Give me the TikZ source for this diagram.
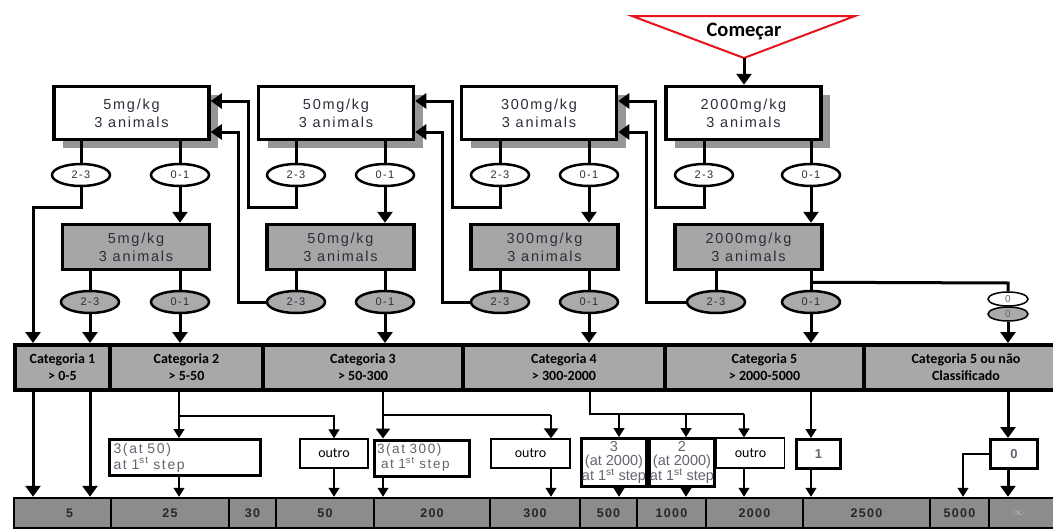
\documentclass[tikz,border=0pt]{standalone}
\usepackage{fontspec}
\setmainfont{Liberation Sans}
\newfontfamily\arialsp[LetterSpace=12]{Liberation Sans}
\newfontfamily\numsp[LetterSpace=10]{Liberation Sans}
\newfontfamily\calib{Carlito}
\usetikzlibrary{arrows.meta,shapes.geometric,shadows}
\definecolor{shadowgray}{RGB}{150,150,150}
\definecolor{boxgray}{RGB}{166,166,166}
\definecolor{ellgray}{RGB}{170,170,170}
\definecolor{catgray}{RGB}{168,168,168}
\definecolor{rowgray}{RGB}{140,140,140}
\definecolor{txtdark}{RGB}{45,45,60}
\definecolor{txtgray}{RGB}{100,100,112}
\definecolor{startred}{RGB}{230,20,30}
\definecolor{infgray}{RGB}{185,185,185}
\begin{document}
\begin{tikzpicture}[x=1pt,y=-1pt,
  wbox/.style={draw, line width=3.5pt, fill=white, minimum width=155pt, minimum height=53pt, inner sep=0pt, align=center, text=txtdark, font=\arialsp\fontsize{14.5}{18}\selectfont, drop shadow={shadow xshift=9pt,shadow yshift=-8pt,fill=shadowgray,opacity=1}},
  gbox/.style={draw, line width=3.5pt, fill=boxgray, minimum width=147pt, minimum height=45pt, inner sep=0pt, align=center, text=txtdark, font=\arialsp\fontsize{14.5}{18}\selectfont},
  wel/.style={ellipse, draw, line width=2.5pt, fill=white, minimum width=58pt, minimum height=22pt, inner sep=0pt, text=txtdark, font=\arialsp\fontsize{11}{12}\selectfont},
  gel/.style={wel, fill=ellgray},
  zel/.style={ellipse, draw, line width=1.5pt, minimum width=40pt, minimum height=14pt, inner sep=0pt, text=txtgray, font=\arialsp\fontsize{10}{10}\selectfont},
  catcell/.style={draw, line width=4pt, fill=catgray, minimum height=45pt, inner sep=0pt, align=center, font=\calib\bfseries\fontsize{14}{17}\selectfont},
  rowcell/.style={draw, line width=2.5pt, fill=rowgray, minimum height=30pt, inner sep=0pt, text=black!85, font=\numsp\bfseries\fontsize{12.5}{13}\selectfont},
  resthick/.style={draw, line width=3pt, fill=white, inner sep=0pt, text=txtgray, font=\arialsp\fontsize{14}{16}\selectfont},
  resthin/.style={draw, line width=1.4pt, fill=white, inner sep=0pt, font=\calib\fontsize{14}{16}\selectfont},
  ln/.style={line width=3pt},
  arr/.style={ln, -{Triangle[width=15pt,length=11pt]}},
  lnt/.style={line width=1.3pt},
  arrt/.style={lnt, -{Triangle[width=11pt,length=9pt]}},
]
\useasboundingbox (0,0) rectangle (1053,530);
\clip (0,0) rectangle (1053,530);
\fill[white] (0,0) rectangle (1053,530);

% start triangle
\coordinate (T1) at (632,16);
\coordinate (T2) at (855,16);
\coordinate (Tap) at (744,58);
\draw[startred, line width=2pt, fill=white] (T1) -- (T2) -- (Tap) -- cycle;
\node[font=\calib\bfseries\fontsize{20.5}{22}\selectfont] (start) at (744,31) {Começar};

% top white boxes
\node[wbox] (W1) at (131.5,113) {5mg/kg\\3 animals};
\node[wbox] (W2) at (336,113) {50mg/kg\\3 animals};
\node[wbox] (W3) at (539,113) {300mg/kg\\3 animals};
\node[wbox] (W4) at (743.5,113) {2000mg/kg\\3 animals};

% gray boxes
\node[gbox] (G1) at (136,247) {5mg/kg\\3 animals};
\node[gbox] (G2) at (340.5,247) {50mg/kg\\3 animals};
\node[gbox] (G3) at (544.5,247) {300mg/kg\\3 animals};
\node[gbox] (G4) at (748.5,247) {2000mg/kg\\3 animals};

% white ellipses
\node[wel] (E1a) at (81,175) {2-3};
\node[wel] (E1b) at (180,175) {0-1};
\node[wel] (E2a) at (296,175) {2-3};
\node[wel] (E2b) at (385,175) {0-1};
\node[wel] (E3a) at (500,175) {2-3};
\node[wel] (E3b) at (589,175) {0-1};
\node[wel] (E4a) at (704,175) {2-3};
\node[wel] (E4b) at (811,175) {0-1};

% gray ellipses
\node[gel] (F1a) at (90,302) {2-3};
\node[gel] (F1b) at (180,302) {0-1};
\node[gel] (F2a) at (296,302) {2-3};
\node[gel] (F2b) at (385,302) {0-1};
\node[gel] (F3a) at (500,302) {2-3};
\node[gel] (F3b) at (589,302) {0-1};
\node[gel] (F4a) at (716,302) {2-3};
\node[gel] (F4b) at (811,302) {0-1};
\node[zel, fill=white] (Z1) at (1008,299) {0};
\node[zel, fill=ellgray] (Z2) at (1008,314) {0};

% category row
\node[catcell, minimum width=95pt] (C1) at (62.5,367.5) {Categoria 1\\> 0-5};
\node[catcell, minimum width=153pt] (C2) at (186.5,367.5) {Categoria 2\\> 5-50};
\node[catcell, minimum width=200pt] (C3) at (363,367.5) {Categoria 3\\> 50-300};
\node[catcell, minimum width=202pt] (C4) at (564,367.5) {Categoria 4\\> 300-2000};
\node[catcell, minimum width=199pt] (C5) at (764.5,367.5) {Categoria 5\\> 2000-5000};
\node[catcell, minimum width=204pt] (C6) at (966,367.5) {Categoria 5 ou não\\Classificado};

% result boxes
\node[resthick, minimum width=151pt, minimum height=36pt, text width=143pt, align=left] (R1) at (185,457.5) {3(at 50)\\at 1\textsuperscript{st} step};
\node[resthin, minimum width=68pt, minimum height=29pt] (R2) at (334,453.5) {outro};
\node[resthick, minimum width=95pt, minimum height=36pt, text width=90pt, align=left, font=\arialsp\fontsize{13.5}{15}\selectfont] (R3) at (422,458) {3(at 300)\\\hspace*{4pt}at 1\textsuperscript{st} step};
\node[resthin, minimum width=79pt, minimum height=29pt] (R4) at (530.5,453.5) {outro};
\node[resthick, minimum width=65pt, minimum height=48pt, align=center, font=\fontsize{14.5}{14}\selectfont] (R5) at (614,462.5) {3\\(at 2000)\\at 1\textsuperscript{st} step};
\node[resthick, minimum width=65pt, minimum height=48pt, align=center, font=\fontsize{14.5}{14}\selectfont] (R6) at (682,462.5) {2\\(at 2000)\\at 1\textsuperscript{st} step};
\node[resthin, line width=1.1pt, minimum width=68pt, minimum height=30pt] (R7) at (750.5,453) {outro};
\node[resthick, minimum width=44pt, minimum height=29pt, font=\bfseries\fontsize{13}{14}\selectfont] (R8) at (818.5,454) {1};
\node[resthick, minimum width=47pt, minimum height=29pt, font=\bfseries\fontsize{13}{14}\selectfont] (R9) at (1014,454) {0};

% bottom row
\node[rowcell, minimum width=97pt] (B5) at (62.5,513) {\hspace*{14pt}5};
\node[rowcell, minimum width=118pt] (B25) at (170,513) {25};
\node[rowcell, minimum width=47pt] (B30) at (252.5,513) {30};
\node[rowcell, minimum width=98pt] (B50) at (325,513) {50};
\node[rowcell, minimum width=116pt] (B200) at (432,513) {200};
\node[rowcell, minimum width=90pt] (B300) at (535,513) {300};
\node[rowcell, minimum width=57pt] (B500) at (608.5,513) {500};
\node[rowcell, minimum width=69pt] (B1000) at (671.5,513) {1000};
\node[rowcell, minimum width=97pt] (B2000) at (754.5,513) {2000};
\node[rowcell, minimum width=127pt] (B2500) at (866.5,513) {2500};
\node[rowcell, minimum width=59pt] (B5000) at (959.5,513) {5000};
\node[rowcell, minimum width=86pt, text=infgray] (Binf) at (1032,513) {$\infty$\hspace*{28pt}};

% start arrow
\draw[arr] (Tap) -- (Tap |- W4.north);

% white boxes to white ellipses
\foreach \b/\e in {W1/E1a,W1/E1b,W2/E2a,W2/E2b,W3/E3a,W3/E3b,W4/E4a,W4/E4b}
  \draw[ln] (\b.south -| \e) -- (\e.north);
% 0-1 to gray boxes
\foreach \e/\g in {E1b/G1,E2b/G2,E3b/G3,E4b/G4}
  \draw[arr] (\e.south) -- (\e.south |- \g.north);
% gray boxes to gray ellipses
\foreach \g/\e in {G1/F1a,G1/F1b,G2/F2a,G2/F2b,G3/F3a,G3/F3b,G4/F4a,G4/F4b}
  \draw[ln] (\g.south -| \e) -- (\e.north);

% W1 2-3 to category 1
\coordinate (K1) at (33,207);
\draw[arr] (E1a.south) |- (K1) -- (K1 |- C1.north);

% loops back to lower doses
\coordinate (L1) at (248,207); \coordinate (L1u) at (248,101);
\draw[arr] (E2a.south) |- (L1) -- (L1u) -- (W1.east |- L1u);
\coordinate (L2) at (238,132);
\draw[arr] (F2a.west) -| (L2) -- (W1.east |- L2);
\coordinate (L3) at (452,207); \coordinate (L3u) at (452,101);
\draw[arr] (E3a.south) |- (L3) -- (L3u) -- (W2.east |- L3u);
\coordinate (L4) at (442,132);
\draw[arr] (F3a.west) -| (L4) -- (W2.east |- L4);
\coordinate (L5) at (655,207); \coordinate (L5u) at (655,101);
\draw[arr] (E4a.south) |- (L5) -- (L5u) -- (W3.east |- L5u);
\coordinate (L6) at (646,132);
\draw[arr] (F4a.west) -| (L6) -- (W3.east |- L6);

% gray ellipses to categories
\draw[arr] (F1a.south) -- (F1a.south |- C1.north);
\draw[arr] (F1b.south) -- (F1b.south |- C2.north);
\draw[arr] (F2b.south) -- (F2b.south |- C3.north);
\draw[arr] (F3b.south) -- (F3b.south |- C4.north);
\draw[arr] (F4b.south) -- (F4b.south |- C5.north);
\coordinate (ZB) at (1008,283);
\draw[ln] (G4.south -| F4b) ++(0,11) -- (ZB) -- (Z1.north);
\draw[arr] (Z2.south) -- (Z2.south |- C6.north);

% category 1
\draw[arr] (C1.south -| K1) -- (K1 |- B5.north);
\draw[arr] (C1.south -| F1a) -- (F1a |- B5.north);

% category 2
\coordinate (J2) at (179,416);
\draw[lnt] (C2.south -| J2) -- (J2);
\draw[arrt] (J2) -- (J2 |- R1.north);
\draw[arrt] (J2) -| (R2.north);
\draw[arrt] (R1.south -| J2) -- (J2 |- B25.north);
\draw[arrt] (R2.south) -- (R2.south |- B50.north);

% category 3
\coordinate (J3) at (383,415);
\coordinate (J3b) at (551,415);
\draw[line width=2.5pt] (C3.south -| J3) -- (J3) -- (J3b);
\draw[line width=2.5pt, -{Triangle[width=14pt,length=10pt]}] (J3) -- (J3 |- R3.north);
\draw[line width=2.5pt, -{Triangle[width=14pt,length=10pt]}] (J3b) -- (J3b |- R4.north);
\draw[arrt] (R3.south -| J3) -- (J3 |- B200.north);
\draw[arrt] (R4.south -| J3b) -- (J3b |- B300.north);

% category 4
\coordinate (J4) at (590,414);
\coordinate (J4a) at (619,414);
\coordinate (J4b) at (686,414);
\coordinate (J4c) at (744,414);
\draw[lnt] (C4.south -| J4) -- (J4) -- (J4c);
\draw[arrt] (J4a) -- (J4a |- R5.north);
\draw[arrt] (J4b) -- (J4b |- R6.north);
\draw[arrt] (J4c) -- (J4c |- R7.north);
\draw[arrt] (R5.south -| J4a) -- (J4a |- B500.north);
\draw[arrt] (R6.south -| J4b) -- (J4b |- B1000.north);
\draw[arrt] (R7.south -| J4c) -- (J4c |- B2000.north);

% category 5
\draw[arrt] (C5.south -| F4b) -- (F4b |- R8.north);
\draw[arrt] (R8.south -| F4b) -- (F4b |- B2500.north);

% category 5 ou nao classificado
\draw[arr] (C6.south -| Z2) -- (Z2 |- R9.north);
\draw[arr] (R9.south -| Z2) -- (Z2 |- Binf.north);
\coordinate (K9) at (963,454);
\draw[arrt] (R9.west) -- (K9) -- (K9 |- B5000.north);
\end{tikzpicture}
\end{document}
